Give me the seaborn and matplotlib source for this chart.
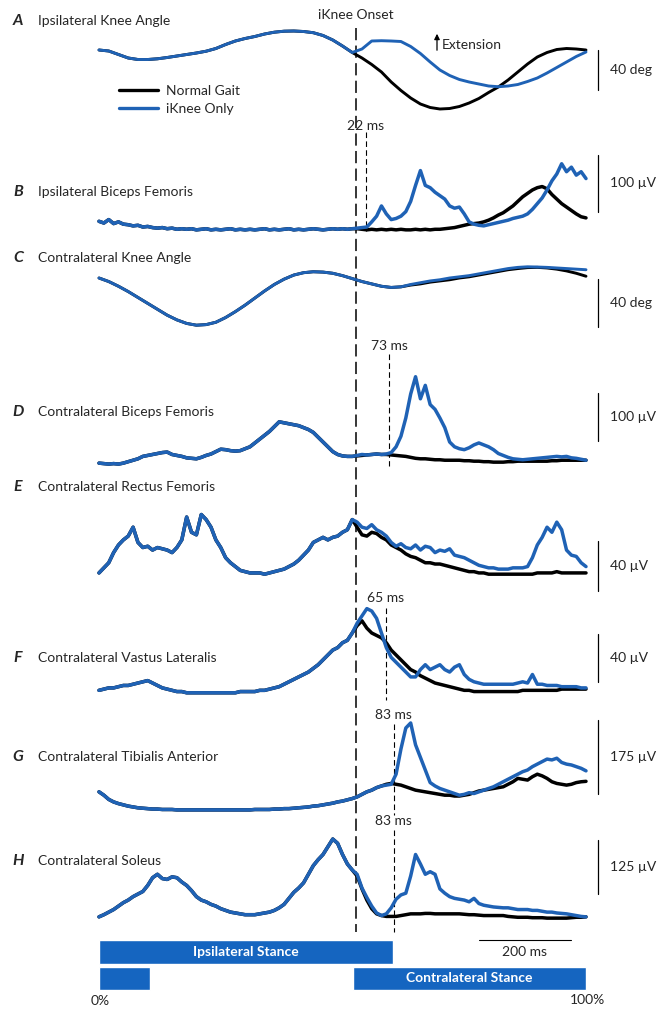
import numpy as np
import pandas as pd
import matplotlib
matplotlib.use("Agg")
import matplotlib.pyplot as plt
import seaborn as sns
from matplotlib.lines import Line2D

sns.set_theme(style="white")
plt.rcParams['font.family'] = ['Lato', 'DejaVu Sans']

# ---------------- data ----------------
conditions = ["Normal Gait", "iKnee Only"]
onset_pct = 52.7          # iKnee onset, % gait cycle
ms_per_pct = 10.59        # gait cycle ~1059 ms
scale_bar_ms = 200

# knee angles (deg), 2% grid
angle_pct = np.arange(0, 101, 2)
a_pre = [0, -1, -4.5, -8, -9.5, -9.5, -8.8, -7.5, -6, -4.5, -3, -1.2, 1.5, 5.5,
         9, 11.5, 13.5, 16, 17.8, 18.8, 19, 18.5, 17.3, 14.5, 10, 4, -2.5]
a_post_ikn = [1, 9, 9.3, 9, 8.5, 3.5, -3.5, -12, -20, -25.5, -29.5, -32, -34, -36,
              -36.7, -36, -34.5, -31.5, -28, -23, -17.5, -12, -6.5, -2]
a_post_norm = [-8, -14.5, -22, -32, -40.5, -48, -54, -57.5, -59, -58.5, -56.5, -53,
               -48.5, -42.5, -37, -30, -22, -14, -7, -2.5, 0.5, 1.5, 1, 0]

c_ikn = [0, -3, -7, -11.5, -16.5, -21.5, -26.5, -31.5, -35.5, -38.5, -40, -39.5,
         -37.5, -33.5, -28.5, -23, -17, -11, -5.5, -1, 2.5, 4.5, 5.3, 5, 4, 2, -0.5,
         -3, -5, -7, -8, -7.5, -5.5, -4, -2.5, -1.5, 0, 1, 2, 3.5, 5, 6.5, 8, 9,
         9.5, 9.3, 9, 8.5, 8, 7.5, 7]
c_norm_tail = [-6, -5, -3.5, -2.5, -1.5, 0, 1, 2.5, 4, 5.5, 7, 8, 8.8, 9, 8.5,
               7.5, 6, 4, 1.5]   # 64..100 %

# EMG (uV), 1% grid: shared part 0..52 %, then 53..100 % per condition
emg_pct = np.arange(0, 101)
b_pre = [17, 14, 20, 13, 16, 12, 11, 9, 10, 7, 8, 6, 5, 6, 4, 5, 3, 4, 3, 4,
         2, 3, 4, 2, 3, 2, 3, 4, 2, 3, 2, 3, 2, 3, 4, 2, 3, 2, 3, 4,
         2, 3, 2, 3, 4, 3, 2, 3, 4, 3, 4, 3, 4]
b_post_ikn = [5, 6, 7, 16, 26, 44, 30, 20, 22, 26, 34, 52, 80, 106, 80, 76, 68, 62, 56, 44,
              40, 42, 30, 16, 12, 10, 9, 11, 13, 15, 17, 19, 22, 24, 26, 30, 38, 48, 58, 72,
              88, 100, 118, 104, 112, 98, 104, 92]
b_post_norm = [4, 3, 2, 3, 2, 3, 2, 3, 2, 3, 2, 2, 3, 2, 3, 2, 3, 3, 4, 5,
               6, 8, 10, 12, 13, 14, 16, 19, 23, 28, 32, 38, 44, 52, 60, 66, 72, 76, 78, 74,
               64, 56, 48, 42, 36, 30, 25, 23]

d_pre = [6, 5, 4, 5, 4, 6, 9, 12, 15, 20, 22, 24, 26, 28, 29, 24, 22, 20, 17, 16,
         15, 18, 22, 25, 30, 35, 34, 32, 31, 32, 36, 40, 48, 56, 64, 72, 82, 92, 90, 88,
         86, 84, 80, 76, 70, 60, 50, 40, 30, 24, 21, 20, 20]
d_post_ikn = [22, 24, 23, 24, 25, 24, 25, 28, 40, 62, 100, 150, 186, 140, 168, 128, 118, 100, 80, 50,
              40, 36, 34, 38, 44, 48, 44, 40, 34, 26, 22, 18, 15, 14, 13, 14, 15, 16, 17, 18,
              19, 20, 19, 20, 17, 16, 14, 12]
d_post_norm = [21, 22, 23, 24, 25, 24, 24, 23, 22, 21, 20, 18, 16, 15, 15, 14, 13, 13, 12, 12,
               12, 12, 11, 11, 10, 10, 9, 9, 8, 8, 8, 9, 9, 10, 10, 10, 10, 10, 10, 10,
               11, 11, 12, 12, 12, 12, 12, 12]

e_pre = [4, 8, 12, 20, 26, 30, 33, 40, 28, 24, 25, 22, 24, 23, 22, 20, 24, 30, 48, 36,
         34, 50, 46, 40, 30, 24, 16, 12, 9, 6, 5, 4, 4, 4, 3, 4, 5, 6, 7, 9,
         11, 14, 18, 22, 28, 30, 32, 30, 32, 33, 36, 38, 46]
e_post_ikn = [44, 40, 39, 42, 38, 36, 33, 28, 25, 27, 24, 23, 26, 22, 25, 24, 20, 22, 21, 23,
              18, 17, 16, 14, 12, 10, 9, 8, 8, 7, 7, 7, 8, 8, 8, 9, 16, 26, 32, 40,
              36, 44, 38, 22, 18, 17, 12, 9]
e_post_norm = [40, 34, 33, 36, 35, 32, 30, 26, 24, 22, 19, 17, 16, 14, 12, 12, 11, 11, 10, 9,
               8, 7, 6, 5, 5, 4, 4, 3, 3, 3, 3, 3, 3, 3, 3, 3, 3, 4, 4, 4,
               4, 5, 4, 4, 4, 4, 4, 4]

f_pre = [3, 4, 5, 5, 6, 7, 7, 8, 9, 10, 11, 9, 7, 5, 4, 3, 2, 2, 1, 1,
         1, 1, 1, 1, 1, 1, 1, 1, 1, 2, 2, 2, 2, 3, 3, 4, 5, 6, 8, 10,
         12, 14, 16, 18, 21, 24, 28, 32, 36, 38, 42, 44, 50]
f_post_ikn = [58, 64, 70, 68, 62, 50, 38, 30, 26, 22, 18, 14, 14, 20, 24, 20, 22, 24, 20, 18,
              22, 24, 16, 12, 10, 9, 8, 8, 8, 8, 8, 8, 8, 9, 10, 9, 16, 8, 8, 7,
              7, 7, 6, 6, 6, 6, 5, 5]
f_post_norm = [56, 60, 54, 50, 48, 46, 42, 36, 32, 28, 24, 20, 18, 15, 13, 11, 9, 8, 7, 6,
               5, 4, 3, 3, 2, 2, 2, 2, 2, 2, 2, 2, 2, 2, 3, 3, 3, 3, 3, 3,
               3, 3, 4, 4, 4, 4, 4, 4]

g_pre = [48, 40, 30, 24, 20, 17, 14, 12, 10, 9, 8, 7, 7, 6, 6, 6, 5, 5, 5, 5,
         5, 5, 5, 5, 5, 5, 5, 5, 5, 5, 5, 5, 6, 6, 6, 6, 7, 7, 8, 8,
         9, 10, 11, 12, 14, 15, 17, 19, 21, 24, 26, 29, 32]
g_post_ikn = [36, 42, 48, 52, 58, 62, 64, 66, 90, 150, 200, 212, 160, 130, 100, 70, 62, 56, 52, 48,
              44, 40, 42, 46, 44, 48, 52, 56, 60, 66, 72, 78, 84, 90, 96, 100, 108, 114, 120, 126,
              124, 128, 118, 114, 112, 108, 104, 98]
g_post_norm = [36, 42, 48, 52, 58, 62, 66, 68, 66, 64, 60, 56, 52, 50, 48, 46, 44, 42, 40, 40,
               38, 38, 40, 42, 46, 50, 52, 54, 56, 58, 60, 66, 72, 80, 78, 76, 84, 90, 86, 80,
               72, 68, 66, 64, 66, 70, 72, 73]

h_pre = [5, 10, 16, 22, 30, 38, 44, 52, 58, 64, 78, 96, 104, 94, 92, 98, 96, 86, 78, 66,
         52, 44, 40, 34, 30, 24, 20, 16, 14, 12, 10, 10, 10, 12, 14, 16, 20, 26, 34, 48,
         62, 72, 84, 104, 124, 138, 150, 168, 186, 176, 150, 128, 114]
h_post_ikn = [104, 72, 50, 30, 14, 8, 12, 26, 46, 56, 60, 100, 150, 128, 104, 110, 104, 70, 60, 52,
              48, 46, 44, 40, 48, 36, 32, 30, 28, 27, 26, 26, 24, 22, 22, 22, 20, 20, 18, 16,
              16, 14, 13, 12, 10, 8, 6, 5]
h_post_norm = [100, 70, 44, 24, 12, 8, 6, 6, 6, 8, 10, 12, 12, 12, 13, 13, 12, 12, 12, 12,
               12, 12, 11, 10, 10, 9, 8, 8, 8, 8, 8, 6, 5, 4, 4, 4, 3, 3, 3, 2,
               2, 2, 2, 2, 3, 4, 4, 5]

# event latencies after onset (ms)
latency_b = 22
latency_d = 73
latency_f = 65
latency_g = 83
latency_h = 83

# stance phases (% gait cycle)
ipsi_stance = [(0, 60.3)]
contra_stance = [(0, 10.4), (52.1, 100)]

# ---------------- layout ----------------
W, H = 658, 1010
X0, X1 = 99, 586
PPP = (X1 - X0) / 100.0
BLUE = "#1f62b5"
BAR_BLUE = "#1565c0"
palette = {"Normal Gait": "black", "iKnee Only": BLUE}

fig = plt.figure(figsize=(W / 100, H / 100), dpi=100)


def full_axes(ylim, xpct=True):
    ax = fig.add_axes([0, 0, 1, 1])
    if xpct:
        ax.set_xlim(-X0 / PPP, (W - X0) / PPP)
    else:
        ax.set_xlim(0, W)
    ax.set_ylim(*ylim)
    ax.axis("off")
    ax.patch.set_alpha(0)
    return ax


ov = full_axes((H, 0))               # x in %, y in pixel rows
txt = full_axes((H, 0), xpct=False)  # pure pixel coords for labels


def join(pre, post):
    return list(pre) + list(post)


panels = [
    dict(letter="A", title="Ipsilateral Knee Angle", x=angle_pct,
         norm=join(a_pre, a_post_norm), ikn=join(a_pre, a_post_ikn),
         zero=50, s=1.0, bar=40, unit="deg", ly=70, ty=21, lw=2.1),
    dict(letter="B", title="Ipsilateral Biceps Femoris", x=emg_pct,
         norm=join(b_pre, b_post_norm), ikn=join(b_pre, b_post_ikn),
         zero=231, s=0.57, bar=100, unit="\u00b5V", ly=183, ty=192, lw=2.5),
    dict(letter="C", title="Contralateral Knee Angle", x=angle_pct,
         norm=join(c_ikn[:32], c_norm_tail), ikn=c_ikn,
         zero=278, s=1.18, bar=40, unit="deg", ly=303, ty=258, lw=2.1),
    dict(letter="D", title="Contralateral Biceps Femoris", x=emg_pct,
         norm=join(d_pre, d_post_norm), ikn=join(d_pre, d_post_ikn),
         zero=466, s=0.48, bar=100, unit="\u00b5V", ly=417, ty=412, lw=2.5),
    dict(letter="E", title="Contralateral Rectus Femoris", x=emg_pct,
         norm=join(e_pre, e_post_norm), ikn=join(e_pre, e_post_ikn),
         zero=578, s=1.27, bar=40, unit="\u00b5V", ly=566, ty=487, lw=2.5),
    dict(letter="F", title="Contralateral Vastus Lateralis", x=emg_pct,
         norm=join(f_pre, f_post_norm), ikn=join(f_pre, f_post_ikn),
         zero=694, s=1.22, bar=40, unit="\u00b5V", ly=658, ty=658, lw=2.5),
    dict(letter="G", title="Contralateral Tibialis Anterior", x=emg_pct,
         norm=join(g_pre, g_post_norm), ikn=join(g_pre, g_post_ikn),
         zero=812, s=0.42, bar=175, unit="\u00b5V", ly=757, ty=757, lw=2.5),
    dict(letter="H", title="Contralateral Soleus", x=emg_pct,
         norm=join(h_pre, h_post_norm), ikn=join(h_pre, h_post_ikn),
         zero=919, s=0.43, bar=125, unit="\u00b5V", ly=867, ty=861, lw=2.5),
]

bar_x_pct = (598 - X0) / PPP

for p in panels:
    ax = full_axes(((p["zero"] - H) / p["s"], p["zero"] / p["s"]))
    n = len(p["x"])
    df = pd.DataFrame({
        "pct": np.concatenate([p["x"], p["x"]]),
        "value": np.concatenate([np.asarray(p["norm"], float), np.asarray(p["ikn"], float)]),
        "condition": [conditions[0]] * n + [conditions[1]] * n,
    })
    sns.lineplot(data=df, x="pct", y="value", hue="condition", hue_order=conditions,
                 palette=palette, estimator=None, sort=False, legend=False,
                 linewidth=p["lw"], ax=ax)
    ax.set_xlim(-X0 / PPP, (W - X0) / PPP)
    ax.set_ylim((p["zero"] - H) / p["s"], p["zero"] / p["s"])
    ax.axis("off")
    # scale bar, centred on the label row
    vc = (p["zero"] - p["ly"]) / p["s"]
    ax.plot([bar_x_pct, bar_x_pct], [vc - p["bar"] / 2, vc + p["bar"] / 2],
            color="black", lw=0.9)
    txt.text(610, p["ly"], f"{p['bar']} {p['unit']}", fontsize=10,
             ha="left", va="center")
    # panel letter + title
    txt.text(18, p["ty"], p["letter"], fontsize=11.5, fontweight="bold",
             fontstyle="italic", ha="center", va="center")
    txt.text(38, p["ty"], p["title"], fontsize=10, ha="left", va="center")

# long onset dashed line
ov.plot([onset_pct, onset_pct], [28, 932], color="black", lw=1.1,
        dashes=(8, 3.5))
txt.text(X0 + onset_pct * PPP, 15, "iKnee Onset", fontsize=10,
         ha="center", va="center")

# response latency lines
events = [(latency_b, 132, 231, 126), (latency_d, 354, 466, 346),
          (latency_f, 608, 700, 598), (latency_g, 724, 815, 715),
          (latency_h, 830, 932, 821)]
for ms, y0, y1, ylab in events:
    xp = onset_pct + ms / ms_per_pct
    ov.plot([xp, xp], [y0, y1], color="black", lw=0.8, dashes=(5, 3))
    txt.text(X0 + xp * PPP, ylab, f"{ms} ms", fontsize=10, ha="center",
             va="center")

# legend
handles = [Line2D([0], [0], color=palette[c], lw=2.4) for c in conditions]
txt.legend(handles, conditions, loc="upper left",
           bbox_to_anchor=(119 / W, 1 - 85 / H), frameon=False, fontsize=10,
           handlelength=2.8, handletextpad=0.6, labelspacing=0.45,
           borderpad=0, borderaxespad=0)

# extension arrow
txt.annotate("", xy=(437, 31), xytext=(437, 53),
             arrowprops=dict(arrowstyle="-|>", color="black", lw=0.9,
                             mutation_scale=8))
txt.text(442, 45, "Extension", fontsize=10, ha="left", va="center")

# stance bars
for left, right in ipsi_stance:
    ov.barh(952, right - left, left=left, height=24, color=BAR_BLUE)
ov.text(sum(ipsi_stance[0]) / 2, 952, "Ipsilateral Stance", color="white",
        fontsize=10, fontweight="bold", ha="center", va="center")
for left, right in contra_stance:
    ov.barh(978.5, right - left, left=left, height=23, color=BAR_BLUE)
ov.text(sum(contra_stance[1]) / 2, 978.5, "Contralateral Stance", color="white",
        fontsize=10, fontweight="bold", ha="center", va="center")

# time scale bar
sb_start = (479 - X0) / PPP
ov.plot([sb_start, sb_start + scale_bar_ms / ms_per_pct], [940, 940],
        color="black", lw=0.8)
txt.text(X0 + (sb_start + scale_bar_ms / ms_per_pct / 2) * PPP, 952,
         f"{scale_bar_ms} ms", fontsize=10, ha="center", va="center")

txt.text(X0 + 1, 1001, "0%", fontsize=10, ha="center", va="center")
txt.text(X1 + 1, 1000, "100%", fontsize=10, ha="center", va="center")

fig.savefig("out.png", dpi=100, facecolor="white")
